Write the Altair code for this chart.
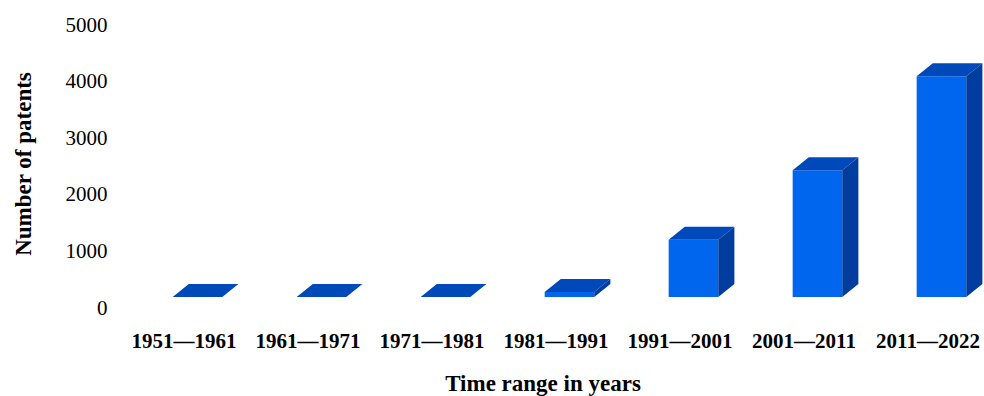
import json

import altair as alt
import pandas as pd

# Patents filed per decade
periods = ["1951—1961", "1961—1971", "1971—1981", "1981—1991",
           "1991—2001", "2001—2011", "2011—2022"]
patents = [0, 0, 0, 90, 1010, 2240, 3900]

# Column geometry (front face half width and the oblique depth of each column)
HALF_W = 0.2     # in category units
DEPTH_X = 0.13   # in category units
DEPTH_Y = 230    # in patents

FRONT = "#0066EE"
TOP = "#0049BA"
SIDE = "#003D9E"
FONT = "Liberation Serif"

front_rows, top_rows, side_rows = [], [], []
for i, (p, v) in enumerate(zip(periods, patents)):
    front_rows.append({"period": p, "x": i - HALF_W, "x2": i + HALF_W, "y": 0, "y2": v})
    top_rows += [
        {"period": p, "x": i - HALF_W, "x2": i + HALF_W, "y": v},
        {"period": p, "x": i - HALF_W + DEPTH_X, "x2": i + HALF_W + DEPTH_X, "y": v + DEPTH_Y},
    ]
    side_rows += [
        {"period": p, "x": i + HALF_W, "y": 0, "y2": v},
        {"period": p, "x": i + HALF_W + DEPTH_X, "y": DEPTH_Y, "y2": v + DEPTH_Y},
    ]

front_df = pd.DataFrame(front_rows)
top_df = pd.DataFrame(top_rows)
side_df = pd.DataFrame(side_rows)

x_scale = alt.Scale(domain=[-0.665, 6.343], nice=False, zero=False)
y_scale = alt.Scale(domain=[0, 5000], nice=False, zero=True)

label_expr = json.dumps(periods, ensure_ascii=False) + "[datum.value]"

x_axis = alt.Axis(
    values=list(range(len(periods))),
    labelExpr=label_expr,
    labelFont=FONT, labelFontSize=21, labelFontWeight="bold", labelColor="black",
    labelOffset=-14, labelPadding=50, labelBaseline="alphabetic",
    labelFlush=False, labelOverlap=False,
    ticks=False, tickSize=0, domain=False, grid=False,
    title="Time range in years",
    titleFont=FONT, titleFontSize=23, titleFontWeight="bold", titleColor="black",
    titleX=427.5, titleY=93, titleBaseline="alphabetic", titleAnchor="start", titleAlign="center",
)

y_axis = alt.Axis(
    values=[0, 1000, 2000, 3000, 4000, 5000],
    format="d",
    labelFont=FONT, labelFontSize=21, labelFontWeight="normal", labelColor="black",
    labelOffset=11, labelPadding=8, labelFlush=False, labelOverlap=False,
    ticks=False, tickSize=0, domain=False, grid=False,
    title="Number of patents",
    titleFont=FONT, titleFontSize=23, titleFontWeight="bold", titleColor="black",
    titleAngle=270, titleX=-85, titleY=149.5, titleBaseline="alphabetic", titleAlign="center",
)

front = alt.Chart(front_df).mark_rect(color=FRONT).encode(
    x=alt.X("x:Q", scale=x_scale, axis=x_axis),
    x2="x2:Q",
    y=alt.Y("y:Q", scale=y_scale, axis=y_axis),
    y2="y2:Q",
)

top = alt.Chart(top_df).mark_area(orient="horizontal", color=TOP).encode(
    y=alt.Y("y:Q", scale=y_scale, axis=y_axis),
    x=alt.X("x:Q", scale=x_scale, axis=x_axis),
    x2="x2:Q",
    detail="period:N",
)

side = alt.Chart(side_df).mark_area(orient="vertical", color=SIDE).encode(
    x=alt.X("x:Q", scale=x_scale, axis=x_axis),
    y=alt.Y("y:Q", scale=y_scale, axis=y_axis),
    y2="y2:Q",
    detail="period:N",
)

chart = alt.layer(front, top, side).properties(
    width=869,
    height=283,
    autosize=alt.AutoSizeParams(type="none"),
    padding={"left": 115, "top": 14, "right": 0, "bottom": 99},
    background="white",
).configure_view(stroke=None)

chart.save("out.html", embed_options={"renderer": "svg", "actions": False})
